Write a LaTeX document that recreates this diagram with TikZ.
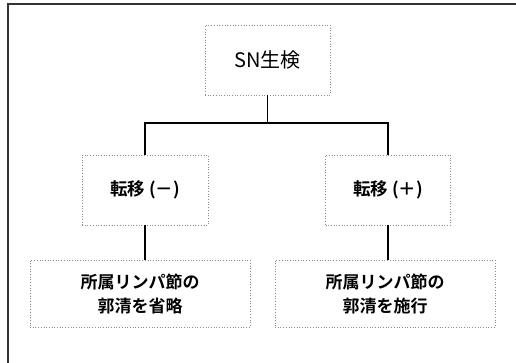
\documentclass[tikz,border=0pt]{standalone}
\usepackage{fontspec}
\setmainfont{Noto Sans CJK JP}[BoldFont={Noto Sans CJK JP Bold}]
\begin{document}
\begin{tikzpicture}[x=1pt,y=-1pt,
  box/.style={draw=black!45, dotted, line width=0.7pt, inner sep=0pt, align=center, text=black},
  conn/.style={draw=black, line width=1.3pt},
  frame/.style={draw=black!80, line width=1.4pt}]
\useasboundingbox (0,0) rectangle (516,363);
\draw[frame] (8,363) -- (8,4) -- (516,4);
\node[box, minimum width=125pt, minimum height=70pt, font=\fontsize{20}{24}\selectfont] (sn) at (267.5,60) {SN生検};
\node[box, minimum width=126pt, minimum height=70pt, font=\bfseries\fontsize{17.5}{20}\selectfont] (l) at (145,190) {\raisebox{0pt}{転移 (－)}};
\node[box, minimum width=125pt, minimum height=70pt, font=\bfseries\fontsize{17.5}{20}\selectfont] (r) at (388,190) {転移 (＋)};
\node[box, minimum width=220pt, minimum height=67pt, font=\bfseries\fontsize{17}{24}\selectfont] (bl) at (140,293.5) {所属リンパ節の\\郭清を省略};
\node[box, minimum width=220pt, minimum height=67pt, font=\bfseries\fontsize{17}{24}\selectfont] (br) at (385,293.5) {所属リンパ節の\\郭清を施行};
\coordinate (bar) at (267.5,123);
\draw[conn] (sn.south) -- (bar);
\draw[conn] (l.north) |- (bar) -| (r.north);
\draw[conn] (l.south) -- (l.south |- bl.north);
\draw[conn] (r.south) -- (r.south |- br.north);
\end{tikzpicture}
\end{document}
